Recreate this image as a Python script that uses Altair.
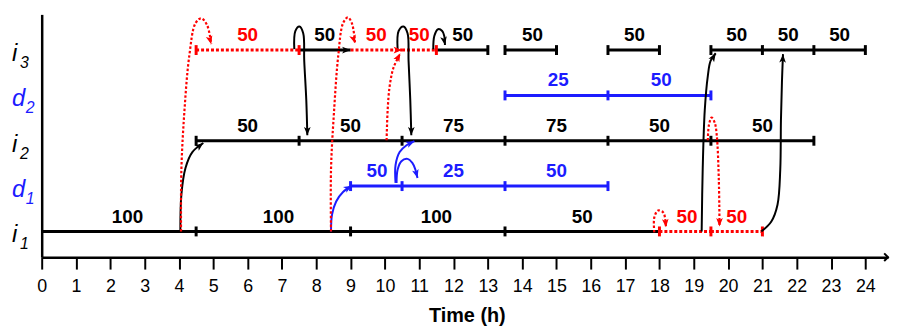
import altair as alt
import pandas as pd

# ---------------- data ----------------
rows = ["i1", "d1", "i2", "d2", "i3"]
row_letter = ["i", "d", "i", "d", "i"]
row_sub = ["1", "1", "2", "2", "3"]
row_kind = ["main", "demand", "main", "demand", "main"]

kinds = ["main", "transfer", "demand"]
kind_colors = ["#000000", "#ff0000", "#1c1cff"]

# schedule segments
seg_row = ["i1", "i1", "i1", "i1", "i1", "i1",
           "d1", "d1", "d1",
           "i2", "i2", "i2", "i2", "i2", "i2",
           "d2", "d2",
           "i3", "i3", "i3", "i3", "i3", "i3", "i3", "i3", "i3", "i3"]
seg_start = [0, 4.5, 9, 13.5, 18, 19.5,
             9, 10.5, 13.5,
             4.5, 7.5, 10.5, 13.5, 16.5, 19.5,
             13.5, 16.5,
             4.5, 7.5, 9, 10.5, 11.5, 13.5, 16.5, 19.5, 21, 22.5]
seg_end = [4.5, 9, 13.5, 18, 19.5, 21,
           10.5, 13.5, 16.5,
           7.5, 10.5, 13.5, 16.5, 19.5, 22.5,
           16.5, 19.5,
           7.5, 9, 10.5, 11.5, 13, 15, 18, 21, 22.5, 24]
seg_kind = ["main", "main", "main", "main", "transfer", "transfer",
            "demand", "demand", "demand",
            "main", "main", "main", "main", "main", "main",
            "demand", "demand",
            "transfer", "main", "transfer", "transfer", "main", "main", "main", "main", "main", "main"]
seg_value = ["100", "100", "100", "50", "50", "50",
             "50", "25", "50",
             "50", "50", "75", "75", "50", "50",
             "25", "50",
             "50", "50", "50", "50", "50", "50", "50", "50", "50", "50"]
seg_label_t = [2.5, 6.9, 11.5, 15.75, 18.8, 20.25,
               9.77, 12.0, 15.0,
               6.0, 9.0, 12.0, 15.0, 18.0, 21.0,
               15.05, 18.05,
               6.0, 8.25, 9.75, 11.0, 12.27, 14.3, 17.27, 20.25, 21.75, 23.25]

# end ticks on the bars
tick_row = ["i1"] * 6 + ["d1"] * 4 + ["i2"] * 7 + ["d2"] * 3 + ["i3"] * 12
tick_t = [4.5, 9, 13.5, 18, 19.5, 21,
          9, 10.5, 13.5, 16.5,
          4.5, 7.5, 10.5, 13.5, 16.5, 19.5, 22.5,
          13.5, 16.5, 19.5,
          4.5, 7.5, 11.5, 13, 13.5, 15, 16.5, 18, 19.5, 21, 22.5, 24]
tick_kind = ["main", "main", "main", "transfer", "transfer", "transfer",
             "demand", "demand", "demand", "demand",
             "main", "main", "main", "main", "main", "main", "main",
             "demand", "demand", "demand",
             "transfer", "transfer", "transfer", "main", "main", "main", "main", "main",
             "main", "main", "main", "main"]

# arrowheads at ends of bars on i3
bar_arrow_t = [9, 10.5]
bar_arrow_row = ["i3", "i3"]
bar_arrow_kind = ["main", "transfer"]

# curved transfer arrows (time, row level)
curve_kind = ["main", "transfer", "main", "transfer", "demand", "transfer", "main",
              "demand", "demand", "main", "transfer", "main", "transfer", "main"]
curve_t = [
    [4.04, 4.07, 4.19, 4.39, 4.71],
    [4.06, 4.07, 4.16, 4.30, 4.48, 4.65, 4.82, 4.94],
    [7.36, 7.39, 7.51, 7.62, 7.65, 7.71, 7.74],
    [8.43, 8.43, 8.52, 8.64, 8.78, 8.92, 9.04, 9.13],
    [8.43, 8.46, 8.58, 8.78, 9.04],
    [10.05, 10.08, 10.14, 10.25, 10.45],
    [10.37, 10.40, 10.54, 10.66, 10.69, 10.74, 10.77],
    [10.31, 10.31, 10.43, 10.63, 10.86],
    [10.34, 10.37, 10.48, 10.66, 10.80, 10.89, 10.95],
    [11.41, 11.44, 11.55, 11.67, 11.73, 11.75],
    [17.85, 17.85, 17.96, 18.11, 18.17, 18.19],
    [19.23, 19.26, 19.32, 19.41, 19.49, 19.64],
    [19.41, 19.44, 19.52, 19.61, 19.67, 19.73, 19.75],
    [20.97, 21.26, 21.44, 21.52, 21.54, 21.57, 21.60],
]
curve_level = [
    [1.00, 1.81, 2.40, 2.75, 2.95],
    [1.00, 2.36, 3.67, 4.87, 5.59, 5.70, 5.55, 5.13],
    [5.02, 5.42, 5.52, 5.37, 4.76, 3.89, 3.12],
    [1.00, 2.36, 3.67, 4.87, 5.59, 5.72, 5.59, 5.15],
    [1.00, 1.37, 1.66, 1.87, 2.01],
    [3.01, 3.67, 4.21, 4.61, 4.93],
    [5.02, 5.42, 5.52, 5.37, 4.76, 3.89, 3.12],
    [2.07, 2.46, 2.75, 2.90, 2.99],
    [2.07, 2.36, 2.55, 2.60, 2.51, 2.36, 2.18],
    [5.02, 5.31, 5.46, 5.42, 5.31, 5.11],
    [0.98, 1.31, 1.46, 1.42, 1.26, 1.09],
    [1.00, 2.36, 3.67, 4.43, 4.76, 4.93],
    [3.01, 3.34, 3.51, 3.40, 3.12, 2.14, 1.11],
    [1.00, 1.22, 1.59, 2.36, 3.45, 4.32, 4.91],
]
curve_arrow_angle = [52, 165, 180, 162, 60, 28, 180, 65, 165, 170, 175, 32, 180, 3]

x_ticks = list(range(25))

# ---------------- tables ----------------
level = {r: i + 1 for i, r in enumerate(rows)}

seg_df = pd.DataFrame({
    "t": seg_start, "t2": seg_end, "L": [level[r] for r in seg_row],
    "kind": seg_kind,
})
label_df = pd.DataFrame({"t": seg_label_t, "L": [level[r] for r in seg_row],
                         "kind": seg_kind, "value": seg_value})
tick_df = pd.DataFrame({"t": tick_t, "L": [level[r] for r in tick_row], "kind": tick_kind})

curve_records = []
arrow_records = []
for ci, (k, ts, ls) in enumerate(zip(curve_kind, curve_t, curve_level)):
    for oi, (tv, lv) in enumerate(zip(ts, ls)):
        curve_records.append({"curve": ci, "order": oi, "t": tv, "L": lv, "kind": k})
    arrow_records.append({"t": ts[-1], "L": ls[-1], "kind": k, "angle": curve_arrow_angle[ci]})
for tv, r, k in zip(bar_arrow_t, bar_arrow_row, bar_arrow_kind):
    arrow_records.append({"t": tv, "L": level[r], "kind": k, "angle": 90})
curve_df = pd.DataFrame(curve_records)
arrow_df = pd.DataFrame(arrow_records)

row_df = pd.DataFrame({"L": [level[r] for r in rows], "letter": row_letter,
                       "sub": row_sub, "kind": row_kind})

# ---------------- chart ----------------
FONT = "Liberation Sans"
W, H = 854, 245
color = alt.Color("kind:N", scale=alt.Scale(domain=kinds, range=kind_colors), legend=None)
x_axis = alt.Axis(values=x_ticks, format="d", title="Time (h)", grid=False,
                  domainColor="black", domainWidth=2.5, tickColor="black",
                  tickWidth=2, tickSize=12, labelFont=FONT, labelFontSize=18,
                  labelColor="black", labelBaseline="alphabetic", labelPadding=23,
                  labelFlush=False, labelOverlap=False, labelBound=False,
                  titleFont=FONT, titleFontSize=20,
                  titleFontWeight="bold", titleColor="black", titleX=429,
                  titleY=65, titleBaseline="alphabetic", titleAlign="center")
x_scale = alt.Scale(domain=[0, 24.66], nice=False, zero=False)
y_axis = alt.Axis(labels=False, ticks=False, title=None, grid=False,
                  domainColor="black", domainWidth=2.5)
y_scale = alt.Scale(domain=[0.432, 5.787], nice=False, zero=False)


def X():
    return alt.X("t:Q", scale=x_scale, axis=x_axis)


def Y():
    return alt.Y("L:Q", scale=y_scale, axis=y_axis)


seg_solid = alt.Chart(seg_df).transform_filter("datum.kind != 'transfer'").mark_rule(
    strokeWidth=3).encode(x=X(), x2="t2:Q", y=Y(), color=color)
seg_dot = alt.Chart(seg_df).transform_filter("datum.kind == 'transfer'").mark_rule(
    strokeWidth=3, strokeDash=[3, 2]).encode(x=X(), x2="t2:Q", y=Y(), color=color)
ticks = alt.Chart(tick_df).mark_tick(orient="vertical", size=10, thickness=3,
                                     opacity=1).encode(x=X(), y=Y(), color=color)
curves_solid = alt.Chart(curve_df).transform_filter("datum.kind != 'transfer'").mark_line(
    interpolate="catmull-rom", strokeWidth=2).encode(
    x=X(), y=Y(), detail="curve:N", order="order:Q", color=color)
curves_dot = alt.Chart(curve_df).transform_filter("datum.kind == 'transfer'").mark_line(
    interpolate="catmull-rom", strokeWidth=2.2, strokeDash=[2.5, 2]).encode(
    x=X(), y=Y(), detail="curve:N", order="order:Q", color=color)
arrows = alt.Chart(arrow_df).mark_point(
    shape="M0,0L0.75,1.9L0,1.45L-0.75,1.9Z", filled=True, size=80, opacity=1).encode(
    x=X(), y=Y(), color=color, angle=alt.Angle("angle:Q", scale=None))
labels = alt.Chart(label_df).mark_text(font=FONT, fontSize=19, fontWeight="bold",
                                       baseline="middle", dy=-15).encode(
    x=X(), y=Y(), text="value:N", color=color)
row_main = alt.Chart(row_df).mark_text(font=FONT, fontSize=24, fontStyle="italic",
                                       align="left", baseline="alphabetic", dy=11).encode(
    x=alt.value(-30), y=Y(), text="letter:N", color=color)
row_sub_i = alt.Chart(row_df).transform_filter("datum.letter == 'i'").mark_text(
    font=FONT, fontSize=16, fontStyle="italic", align="left", baseline="alphabetic",
    dy=18).encode(x=alt.value(-22), y=Y(), text="sub:N", color=color)
row_sub_d = alt.Chart(row_df).transform_filter("datum.letter == 'd'").mark_text(
    font=FONT, fontSize=16, fontStyle="italic", align="left", baseline="alphabetic",
    dy=18).encode(x=alt.value(-16), y=Y(), text="sub:N", color=color)
axis_arrow = alt.Chart(pd.DataFrame({"a": [0]})).mark_point(
    shape="M-1,-1L0,0L-1,1", filled=False, size=60, strokeWidth=2, color="black",
    opacity=1).encode(x=alt.value(W), y=alt.value(H))

chart = alt.layer(seg_solid, seg_dot, ticks, curves_solid, curves_dot, arrows, labels,
                  row_main, row_sub_i, row_sub_d, axis_arrow).properties(
    width=W, height=H,
    autosize=alt.AutoSizeParams(type="none"),
    padding={"left": 34, "top": 5, "right": 2, "bottom": 69},
).configure_view(strokeWidth=0).configure_axis(grid=False)

chart.save("out.html", embed_options={"renderer": "svg", "actions": False})
